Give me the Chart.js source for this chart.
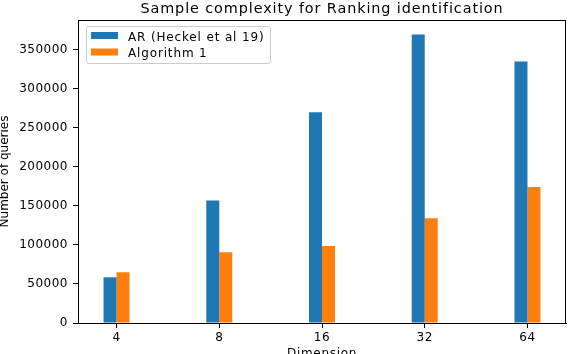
<!DOCTYPE html>
<html>
<head>
<meta charset="utf-8">
<script src="https://cdn.jsdelivr.net/npm/chart.js@4"></script>
<style>
  html, body { margin: 0; padding: 0; background: #fff; }
  #wrap { width: 568px; height: 354px; position: relative; }
</style>
</head>
<body>
<div id="wrap"><canvas id="chart"></canvas></div>
<script>
const dims = ['4', '8', '16', '32', '64'];
const arQueries = [58500, 157000, 270000, 369500, 335000];
const algQueries = [65000, 90500, 98500, 134000, 174000];
const yTicks = [0, 50000, 100000, 150000, 200000, 250000, 300000, 350000];

const FONT = 'DejaVu Sans';
Chart.defaults.font.family = FONT;
Chart.defaults.color = '#000';

// the source figure is a bit stretched sideways; widen the text to match
const widenText = {
  id: 'widenText',
  beforeDraw(chart) { chart.ctx.letterSpacing = '0.5px'; }
};

// frame, titles and the in-axes legend, drawn like matplotlib does
const decorations = {
  id: 'decorations',
  afterDraw(chart) {
    const { ctx, chartArea: a } = chart;
    ctx.save();
    ctx.strokeStyle = '#000';
    ctx.lineWidth = 1;
    ctx.strokeRect(a.left + 0.5, a.top + 0.5, a.right - a.left - 1, a.bottom - a.top);

    ctx.fillStyle = '#000';
    ctx.textAlign = 'center';
    ctx.textBaseline = 'alphabetic';
    ctx.letterSpacing = '0.9px';
    ctx.font = '14.4px "' + FONT + '"';
    ctx.fillText('Sample complexity for Ranking identification', (a.left + a.right) / 2, 13);

    ctx.letterSpacing = '0.7px';
    ctx.font = '12px "' + FONT + '"';
    ctx.fillText('Dimension', (a.left + a.right) / 2, 357);

    ctx.letterSpacing = '0px';
    ctx.save();
    ctx.translate(7.5, (a.top + a.bottom) / 2);
    ctx.rotate(-Math.PI / 2);
    ctx.fillText('Number of queries', 0, 0);
    ctx.restore();

    // legend
    const lx = 86, ly = 26, lw = 184, lh = 37;
    ctx.fillStyle = 'rgba(255,255,255,0.8)';
    ctx.strokeStyle = '#cccccc';
    ctx.beginPath();
    ctx.roundRect(lx + 0.5, ly + 0.5, lw, lh, 2);
    ctx.fill();
    ctx.stroke();
    ctx.textAlign = 'left';
    ctx.letterSpacing = '0.85px';
    chart.data.datasets.forEach((ds, i) => {
      const y = ly + 6 + i * 16.5;
      ctx.fillStyle = ds.backgroundColor;
      ctx.fillRect(lx + 5, y, 27, 7);
      ctx.fillStyle = '#000';
      ctx.fillText(ds.label, lx + 42, y + 8.5);
    });
    ctx.restore();
  }
};

new Chart(document.getElementById('chart'), {
  type: 'bar',
  data: {
    datasets: [
      {
        label: 'AR (Heckel et al 19)',
        data: arQueries.map((v, i) => ({ x: i, y: v })),
        backgroundColor: '#1f77b4',
      },
      {
        label: 'Algorithm 1',
        data: algQueries.map((v, i) => ({ x: i, y: v })),
        backgroundColor: '#ff7f0e',
      },
    ],
  },
  options: {
    responsive: true,
    maintainAspectRatio: false,
    animation: false,
    layout: { padding: { left: 0, top: 20, right: 2, bottom: 0 } },
    categoryPercentage: 0.253,
    barPercentage: 1.0,
    plugins: { legend: { display: false }, tooltip: { enabled: false }, title: { display: false } },
    scales: {
      x: {
        type: 'linear',
        offset: false,
        min: -0.375,
        max: 4.375,
        afterBuildTicks: (s) => { s.ticks = dims.map((d, i) => ({ value: i })); },
        afterFit: (s) => { s.height = 31; },
        grid: { offset: false, drawOnChartArea: false, tickLength: 5, color: '#000' },
        border: { display: true, color: '#000' },
        ticks: {
          padding: 3,
          font: { size: 12 },
          color: '#000',
          maxRotation: 0,
          callback: (v) => dims[v],
        },
      },
      y: {
        min: 0,
        max: 388000,
        afterBuildTicks: (s) => { s.ticks = yTicks.map((v) => ({ value: v })); },
        afterFit: (s) => { s.width = 78; },
        grid: { drawOnChartArea: false, tickLength: 5, color: '#000' },
        border: { display: true, color: '#000' },
        ticks: { padding: 5, font: { size: 12 }, color: '#000', callback: (v) => String(v) },
      },
    },
  },
  plugins: [widenText, decorations],
});
</script>
</body>
</html>
